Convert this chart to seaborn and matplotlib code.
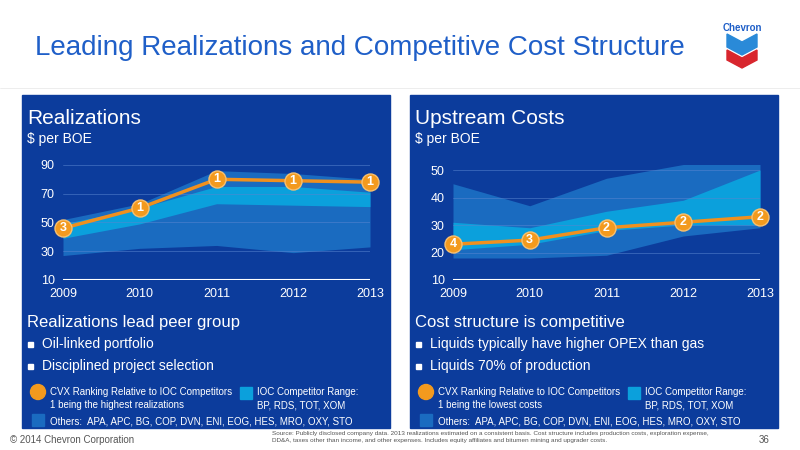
import matplotlib
matplotlib.use("Agg")
import matplotlib.pyplot as plt
import seaborn as sns
import pandas as pd
from matplotlib.patches import Rectangle, Polygon, Ellipse

years = [2009, 2010, 2011, 2012, 2013]
# Realizations
r_oth_lo = [27, 32, 34, 29, 33]
r_oth_hi = [52, 63, 86, 84, 80]
r_ioc_lo = [39, 49, 63, 62, 61]
r_ioc_hi = [49, 60, 75, 75, 71]
r_cvx = [46, 60, 80, 79, 78]
r_rank = [3, 1, 1, 1, 1]
# Upstream costs
c_oth_lo = [18, 18, 19, 26, 29]
c_oth_hi = [45, 37, 47, 52, 52]
c_ioc_lo = [21, 23, 28, 30, 30]
c_ioc_hi = [31, 29, 35, 39, 50]
c_cvx = [23, 24.5, 29, 31, 33]
c_rank = [4, 3, 2, 2, 2]

sns.set_theme(style="white")
plt.rcParams['font.family'] = ['Liberation Sans', 'DejaVu Sans']

W, H = 800, 450
fig = plt.figure(figsize=(8, 4.5), dpi=100)
fig.patch.set_facecolor("white")

def fx(x): return x / W
def fy(y): return 1 - y / H

PANEL = "#0c3c9c"
OTH = "#1a6bc0"
IOC = "#0ba0dc"
ORG = "#f0901e"

for x0 in (22, 410):
    fig.patches.append(Rectangle((fx(x0), fy(428)), 368 / W, 333 / H,
                                 transform=fig.transFigure, color=PANEL, zorder=0))

fig.text(fx(35), fy(48), "Leading Realizations and Competitive Cost Structure",
         color="#1f5fc8", fontsize=20, va="center")
fig.add_artist(plt.Line2D([fx(0), fx(800)], [fy(88), fy(88)], color="#e6e6e6", lw=0.5))

def panel(ax, lo, hi, ilo, ihi, cvx, rank, ylim, yticks):
    ax.set_zorder(5)
    ax.patch.set_alpha(0)
    ax.fill_between(years, lo, hi, color=OTH, lw=0, zorder=1)
    ax.fill_between(years, ilo, ihi, color=IOC, lw=0, zorder=2)
    for t in yticks[1:]:
        ax.axhline(t, color="#5a86d0", lw=0.6, alpha=0.6, zorder=3)
    ax.axhline(yticks[0], color="white", lw=1.5, zorder=3)
    df = pd.DataFrame({"year": years, "v": cvx})
    sns.lineplot(data=df, x="year", y="v", ax=ax, color=ORG, lw=2.5, zorder=4)
    sns.scatterplot(data=df, x="year", y="v", ax=ax, color="#f39a1e", s=150,
                    edgecolor="#f7c070", linewidth=1, zorder=5, clip_on=False)
    for x, y, r in zip(years, cvx, rank):
        ax.text(x, y, str(r), color="white", fontsize=9, fontweight="bold",
                ha="center", va="center", zorder=6)
    ax.set_xlim(2009, 2013)
    ax.set_ylim(*ylim)
    ax.set_xticks(years)
    ax.set_yticks(yticks)
    ax.tick_params(colors="white", labelsize=9, length=0, pad=6)
    ax.set_xlabel(""); ax.set_ylabel("")
    for s in ax.spines.values():
        s.set_visible(False)

ax1 = fig.add_axes([fx(63), fy(280), 307 / W, (280 - 162) / H])
panel(ax1, r_oth_lo, r_oth_hi, r_ioc_lo, r_ioc_hi, r_cvx, r_rank, (10, 92), [10, 30, 50, 70, 90])
ax2 = fig.add_axes([fx(453), fy(280), 307 / W, (280 - 164.5) / H])
panel(ax2, c_oth_lo, c_oth_hi, c_ioc_lo, c_ioc_hi, c_cvx, c_rank, (10, 52), [10, 20, 30, 40, 50])

def texts(x0, head, heading2, bullets, rank_txt):
    fig.text(fx(x0 + 5), fy(118), head, color="white", fontsize=15, va="center")
    fig.text(fx(x0 + 5), fy(139), "$ per BOE", color="white", fontsize=10, va="center")
    fig.text(fx(x0 + 5), fy(323), heading2, color="white", fontsize=12, va="center")
    for i, b in enumerate(bullets):
        y = 344 + 22 * i
        fig.patches.append(Rectangle((fx(x0 + 6), fy(y + 3)), 5 / W, 5 / H,
                                     transform=fig.transFigure, color="white"))
        fig.text(fx(x0 + 20), fy(y), b, color="white", fontsize=10, va="center")
    fig.patches.append(Ellipse((fx(x0 + 16), fy(392)), 15 / W, 15 / H, transform=fig.transFigure,
                               color="#f39a1e"))
    fig.text(fx(x0 + 28), fy(392), "CVX Ranking Relative to IOC Competitors",
             color="white", fontsize=7, va="center")
    fig.text(fx(x0 + 28), fy(405), rank_txt, color="white", fontsize=7, va="center")
    fig.patches.append(Rectangle((fx(x0 + 218), fy(399)), 12 / W, 12 / H,
                                 transform=fig.transFigure, color=IOC))
    fig.text(fx(x0 + 235), fy(392), "IOC Competitor Range:", color="white", fontsize=7, va="center")
    fig.text(fx(x0 + 235), fy(405), "BP, RDS, TOT, XOM", color="white", fontsize=7, va="center")
    fig.patches.append(Rectangle((fx(x0 + 10), fy(426)), 12 / W, 12 / H,
                                 transform=fig.transFigure, color=OTH))
    fig.text(fx(x0 + 28), fy(421), "Others:  APA, APC, BG, COP, DVN, ENI, EOG, HES, MRO, OXY, STO",
             color="white", fontsize=7, va="center")

texts(22, "Realizations", "Realizations lead peer group",
      ["Oil-linked portfolio", "Disciplined project selection"], "1 being the highest realizations")
texts(410, "Upstream Costs", "Cost structure is competitive",
      ["Liquids typically have higher OPEX than gas", "Liquids 70% of production"],
      "1 being the lowest costs")

fig.text(fx(10), fy(440), "© 2014 Chevron Corporation", color="#555555", fontsize=7, va="center")
fig.text(fx(272), fy(437), "Source: Publicly disclosed company data. 2013 realizations estimated on a consistent basis. "
         "Cost structure includes production costs, exploration expense,\nDD&A, taxes other than income, "
         "and other expenses. Includes equity affiliates and bitumen mining and upgrader costs.",
         color="#555555", fontsize=4.6, va="center", linespacing=1.3)
fig.text(fx(770), fy(440), "36", color="#555555", fontsize=7, va="center", ha="right")

# logo
fig.text(fx(742), fy(28), "Chevron", color="#1f5fc8", fontsize=7, fontweight="bold", ha="center", va="center")
pts_b = [(727, 34), (742, 42), (757, 34), (757, 47), (742, 55), (727, 47)]
pts_r = [(727, 50), (742, 58), (757, 50), (757, 60), (742, 68), (727, 60)]
fig.patches.append(Polygon([(fx(a), fy(b)) for a, b in pts_b], closed=True,
                           transform=fig.transFigure, color="#2a8ad8"))
fig.patches.append(Polygon([(fx(a), fy(b)) for a, b in pts_r], closed=True,
                           transform=fig.transFigure, color="#d8262e"))

fig.savefig("out.png", dpi=100, facecolor="white")
